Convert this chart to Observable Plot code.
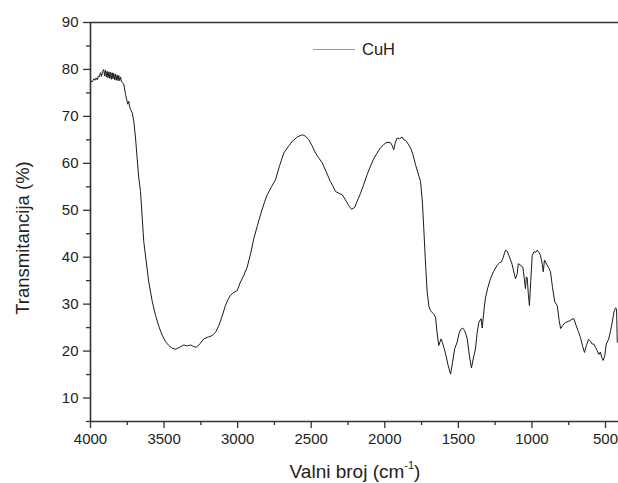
<!DOCTYPE html>
<html>
<head>
<meta charset="utf-8">
<script src="https://cdn.jsdelivr.net/npm/d3@7"></script>
<script src="https://cdn.jsdelivr.net/npm/@observablehq/plot@0.6"></script>
<style>
  html, body { margin: 0; padding: 0; background: #fff; }
  #wrap { position: relative; width: 618px; height: 483px; font-family: "Liberation Sans", Arial, sans-serif; color: #222; }
  #ylab { position: absolute; left: 23px; top: 238px; transform: translate(-50%, -50%) rotate(-90deg); font-size: 18.5px; white-space: nowrap; }
  #xlab { position: absolute; left: 355px; top: 471px; transform: translate(-50%, -50%); font-size: 19px; white-space: nowrap; }
  #xlab sup { font-size: 11px; vertical-align: 9px; }
  #legend { position: absolute; left: 313px; top: 40px; display: flex; align-items: center; font-size: 16.5px; }
  #legend .sw { width: 42px; height: 0; border-top: 1.6px solid #999; margin-right: 7px; }
</style>
</head>
<body>
<div id="wrap">
  <div id="chart"></div>
  <div id="ylab">Transmitancija (%)</div>
  <div id="xlab">Valni broj (cm<sup>-1</sup>)</div>
  <div id="legend"><div class="sw"></div><span>CuH</span></div>
</div>
<script>
const seriesName = "CuH";
const wavenumber = [
  4000, 3988, 3978, 3970, 3962, 3954, 3946, 3940, 3932, 3925, 3918, 3910, 3904, 3898, 3892, 3887, 3881, 3875, 3869, 3864, 3858, 3853, 3847, 3842, 3836, 3830, 3825, 3819, 3813, 3808, 3802, 3796, 3790, 3785, 3774, 3762, 3747, 3740, 3735, 3728, 3717, 3706, 3694, 3683, 3672, 3660,
  3638, 3604, 3580, 3558, 3535, 3513, 3490, 3468, 3445, 3422, 3395, 3366, 3340, 3320, 3300, 3280, 3255, 3230, 3200, 3173, 3150, 3128, 3105, 3083, 3065, 3049, 3025, 3003, 2981,
  2960, 2935, 2910, 2890, 2865, 2845, 2820, 2799, 2770, 2743, 2715, 2686, 2655, 2629, 2595, 2561, 2540, 2516, 2495, 2471, 2450, 2425, 2400, 2369, 2350, 2335, 2310, 2289, 2267, 2245, 2226,
  2205, 2188, 2165, 2143, 2120, 2097, 2075, 2052, 2030, 2007, 1985, 1961, 1950, 1939, 1928, 1916, 1900, 1882, 1870, 1859, 1845, 1825, 1808, 1791, 1775, 1757, 1745, 1735, 1722, 1712,
  1700, 1689, 1678, 1667, 1655, 1645, 1633, 1617, 1608, 1599, 1585, 1570, 1553, 1540, 1525, 1508, 1495, 1485, 1470, 1458, 1448, 1440, 1425, 1411, 1398, 1384, 1372, 1361, 1345, 1338,
  1325, 1316, 1300, 1282, 1260, 1236, 1220, 1207, 1195, 1180, 1168, 1157, 1135, 1112, 1100, 1093, 1080, 1070, 1062, 1052, 1044, 1038, 1032, 1024, 1017, 1008, 998, 985, 975, 964, 952,
  942, 930, 923, 915, 900, 887, 874, 860, 845, 828, 815, 805, 790, 772, 755, 740, 728, 715, 700, 685, 670, 655, 643, 630, 615, 602, 590, 580, 568, 557, 545, 535, 525, 516, 505,
  495, 478, 468, 455, 443, 432, 425, 420, 416, 412
];
const transmittance = [
  77.5, 77.4, 78.0, 77.7, 78.2, 77.8, 78.6, 78.4, 79.3, 78.5, 79.6, 80.0, 78.6, 79.8, 78.4, 79.6, 78.2, 79.5, 78.1, 79.4, 77.9, 79.3, 78.0, 79.2, 77.8, 79.0, 77.7, 78.8, 77.6, 78.7, 77.6, 78.4, 77.5, 77.2, 76.9, 74.7, 72.6, 73.2, 72.2, 71.5, 70.8, 69.0, 65.4, 61.1, 56.9, 54.0,
  43.3, 34.7, 30.5, 27.6, 25.2, 23.4, 22.0, 21.2, 20.6, 20.4, 20.8, 21.3, 21.1, 21.3, 21.0, 20.8, 21.6, 22.6, 23.0, 23.3, 24.0, 25.4, 27.5, 29.7, 31.0, 31.9, 32.5, 32.9, 34.7,
  36.0, 37.9, 41.0, 44.0, 46.8, 49.0, 51.5, 53.3, 55.0, 56.5, 59.5, 62.2, 63.6, 64.7, 65.6, 66.1, 65.8, 65.0, 63.8, 62.2, 61.2, 60.1, 58.3, 56.1, 55.0, 54.0, 53.6, 53.3, 52.2, 51.0, 50.2,
  50.6, 51.9, 53.6, 55.5, 57.6, 59.4, 61.0, 62.2, 63.3, 64.0, 64.5, 64.4, 63.8, 62.9, 64.5, 65.4, 65.2, 65.6, 65.0, 64.9, 64.3, 63.3, 61.8, 59.7, 58.0, 56.1, 52.0, 46.1, 38.0, 32.6,
  29.5, 28.6, 28.2, 27.9, 27.2, 24.0, 21.2, 22.6, 21.8, 20.8, 19.2, 17.0, 15.1, 17.5, 20.5, 21.9, 23.8, 24.6, 24.9, 24.4, 23.5, 22.6, 19.0, 16.4, 18.5, 20.4, 24.0, 26.1, 26.9, 24.9,
  29.0, 31.3, 33.5, 35.4, 37.0, 38.3, 38.8, 39.0, 40.0, 41.5, 41.3, 40.4, 38.5, 35.4, 36.5, 38.6, 38.4, 38.0, 37.9, 35.5, 33.3, 35.8, 35.6, 32.0, 29.7, 35.0, 40.4, 41.2, 41.0, 41.5, 41.0,
  40.4, 38.5, 36.9, 39.4, 38.5, 37.8, 36.9, 33.5, 30.5, 29.7, 26.5, 24.8, 25.5, 26.1, 26.3, 26.5, 26.8, 26.9, 25.5, 24.2, 22.9, 21.0, 19.7, 21.2, 22.5, 22.1, 21.5, 21.5, 20.8, 20.1, 19.3,
  19.8, 18.6, 18.0, 19.0, 21.5, 22.6, 24.0, 26.0, 28.3, 29.2, 29.0, 21.9
];
const xMajorTicks = [4000, 3500, 3000, 2500, 2000, 1500, 1000, 500];
const xMinorTicks = [3750, 3250, 2750, 2250, 1750, 1250, 750];
const yMajorTicks = [10, 20, 30, 40, 50, 60, 70, 80, 90];
const yMinorTicks = [5, 15, 25, 35, 45, 55, 65, 75, 85];

const data = wavenumber.map((w, i) => ({w, t: transmittance[i], s: seriesName}));
const axisColor = "#333";

const chart = Plot.plot({
  width: 618,
  height: 483,
  marginLeft: 90,
  marginRight: 0,
  marginTop: 22,
  marginBottom: 62,
  style: {fontFamily: "'Liberation Sans', Arial, sans-serif", background: "#fff", color: "#222"},
  x: {domain: [4000, 411.7]},
  y: {domain: [5, 90]},
  marks: [
    Plot.axisX({ticks: xMajorTicks, tickSize: 7, tickPadding: 5, fontSize: 15, label: null, stroke: axisColor, strokeWidth: 1.3, tickFormat: d => String(d)}),
    Plot.axisX({ticks: xMinorTicks, tickSize: 4, tickFormat: () => "", label: null, stroke: axisColor, strokeWidth: 1.3}),
    Plot.axisY({ticks: yMajorTicks, tickSize: 7, tickPadding: 5, fontSize: 15, label: null, stroke: axisColor, strokeWidth: 1.3}),
    Plot.axisY({ticks: yMinorTicks, tickSize: 4, tickFormat: () => "", label: null, stroke: axisColor, strokeWidth: 1.3}),
    Plot.ruleY([5], {stroke: axisColor, strokeWidth: 1.6}),
    Plot.ruleY([90], {stroke: axisColor, strokeWidth: 1.6}),
    Plot.ruleX([4000], {stroke: axisColor, strokeWidth: 1.6}),
    Plot.line(data, {x: "w", y: "t", stroke: "#1a1a1a", strokeWidth: 1, clip: true})
  ]
});
document.getElementById("chart").appendChild(chart);
</script>
</body>
</html>
